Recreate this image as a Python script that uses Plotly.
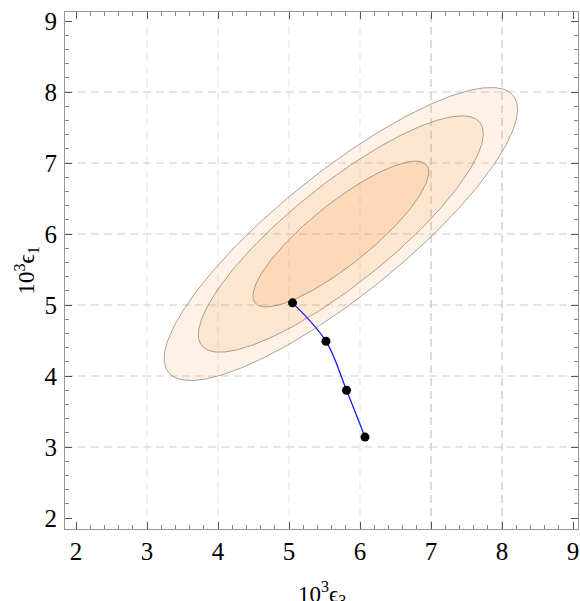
import numpy as np
import plotly.graph_objects as go

# ---- data ----
center = [5.73, 6.0]          # (10^3 eps3, 10^3 eps1)
sigma = [0.82, 0.68]          # spread along x, y
rho = 0.85                    # correlation
levels = [9.21, 5.99, 2.28]   # chi^2 levels (99%, 95%, 68%), outer -> inner
fill_alpha = [0.15, 0.14, 0.17]

curve_x = [5.05, 5.52, 5.81, 6.07]
curve_y = [5.03, 4.49, 3.80, 3.14]

x_ticks = [2, 3, 4, 5, 6, 7, 8, 9]
y_ticks = [2, 3, 4, 5, 6, 7, 8, 9]
grid_x = [3, 4, 5, 6, 7, 8]
grid_y = [3, 4, 5, 6, 7, 8]
x_range = [1.845, 9.07]
y_range = [1.845, 9.127]

FONT = "Liberation Serif, Times New Roman, serif"

fig = go.Figure()

# confidence ellipses
cov = np.array([[sigma[0] ** 2, rho * sigma[0] * sigma[1]],
                [rho * sigma[0] * sigma[1], sigma[1] ** 2]])
L = np.linalg.cholesky(cov)
t = np.linspace(0, 2 * np.pi, 361)
circle = np.vstack([np.cos(t), np.sin(t)])
for k, a in zip(levels, fill_alpha):
    pts = L @ circle * np.sqrt(k)
    fig.add_trace(go.Scatter(
        x=center[0] + pts[0], y=center[1] + pts[1],
        mode="lines", fill="toself",
        fillcolor=f"rgba(250,160,80,{a})",
        line=dict(color="rgba(115,105,95,0.6)", width=1),
        hoverinfo="skip", showlegend=False))

# blue curve with points
fig.add_trace(go.Scatter(
    x=curve_x, y=curve_y, mode="lines",
    line=dict(color="#1a1aff", width=1.3, shape="spline", smoothing=1.0),
    showlegend=False))
fig.add_trace(go.Scatter(
    x=curve_x, y=curve_y, mode="markers",
    marker=dict(color="black", size=9),
    showlegend=False))

# dashed grid
shapes = []
for gx in grid_x:
    col = "#b8b8b8" if gx >= 7 else "#e2e2e2"
    shapes.append(dict(type="line", xref="x", yref="paper", x0=gx, x1=gx,
                       y0=0, y1=1, layer="below",
                       line=dict(color=col, width=1, dash="8px,5px")))
for gy in grid_y:
    shapes.append(dict(type="line", xref="paper", yref="y", x0=0, x1=1,
                       y0=gy, y1=gy, layer="below",
                       line=dict(color="#cccccc", width=1, dash="8px,5px")))

axis_common = dict(
    showgrid=False, zeroline=False, automargin=False,
    showline=True, linecolor="#999999", linewidth=1, mirror="ticks",
    ticks="inside", ticklen=7, tickwidth=1, tickcolor="#555555",
    tickfont=dict(family=FONT, size=25, color="black"),
    minor=dict(dtick=0.2, ticks="inside", ticklen=4, tickcolor="#888888",
               showgrid=False),
)

fig.update_layout(
    width=580, height=601,
    margin=dict(l=65, r=2, t=12, b=72),
    plot_bgcolor="white", paper_bgcolor="white",
    shapes=shapes,
    xaxis=dict(range=x_range, tickvals=x_ticks, ticklabelstandoff=0,
               **axis_common),
    yaxis=dict(range=y_range, tickvals=y_ticks, ticklabelstandoff=2,
               **axis_common),
    annotations=[
        dict(text="10<sup>3</sup>ϵ<sub>3</sub>", xref="paper", yref="paper",
             x=0.5, y=0, yshift=-64, xanchor="center", yanchor="middle",
             showarrow=False, font=dict(family=FONT, size=23, color="black")),
        dict(text="10<sup>3</sup>ϵ<sub>1</sub>", xref="paper", yref="paper",
             x=0, xshift=-39, y=0.5, xanchor="center", yanchor="middle",
             textangle=-90, showarrow=False,
             font=dict(family=FONT, size=23, color="black")),
    ],
)

fig.write_html(
    "out.html",
    config={"displayModeBar": False},
    post_script="document.body.style.margin='0';document.body.style.overflow='hidden';",
)
